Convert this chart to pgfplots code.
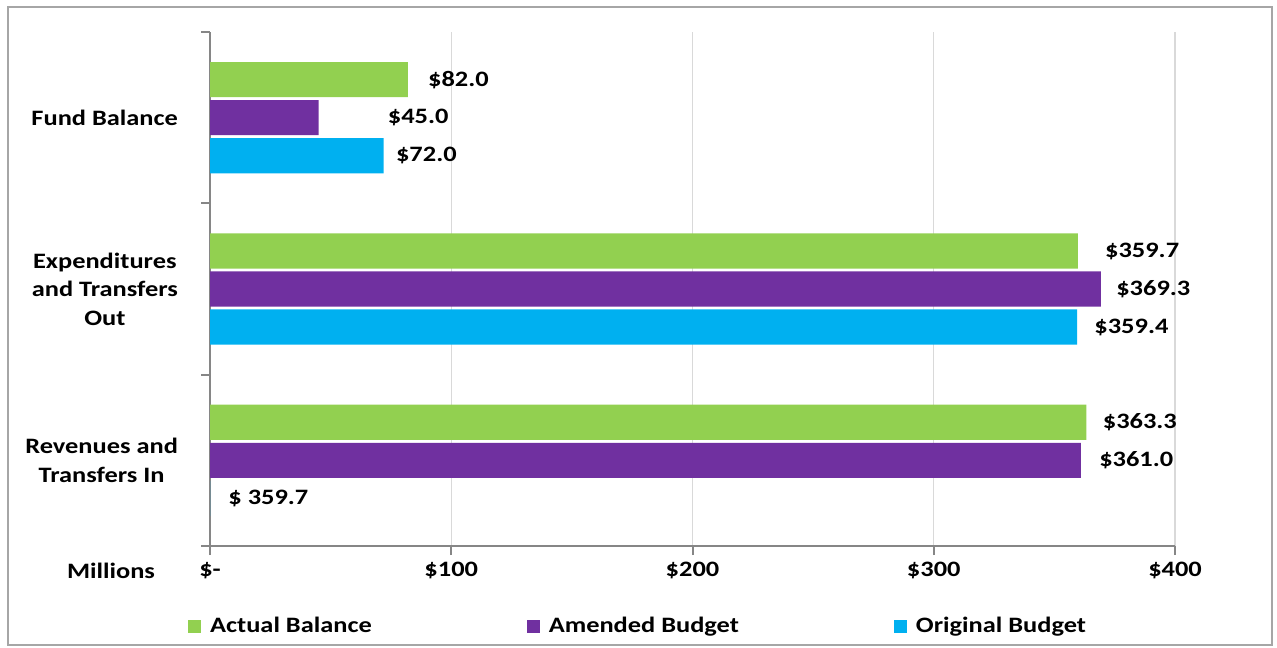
\documentclass[border=0pt]{standalone}
\usepackage{pgfplots}
\pgfplotsset{compat=1.18}
\usepackage{pgfplotstable}
\usepackage{fontspec}
\setmainfont{Carlito}[FakeStretch=1.2]

\definecolor{cgreen}{HTML}{92D050}
\definecolor{cpurple}{HTML}{7030A0}
\definecolor{cblue}{HTML}{00B0F0}
\definecolor{caxis}{HTML}{868686}
\definecolor{cgrid}{HTML}{D9D9D9}
\definecolor{cframe}{HTML}{A6A6A6}

% y: 0 = Revenues, 1 = Expenditures, 2 = Fund Balance; off = gap to label (pt)
\pgfplotstableread{
y x lab off
0 363.3 {\$363.3} 8
1 359.7 {\$359.7} 13.5
2 82.0 {\$82.0} 10
}\actual
\pgfplotstableread{
y x lab off
0 361.0 {\$361.0} 9
1 369.3 {\$369.3} 7.5
2 45.0 {\$45.0} 34.5
}\amended
\pgfplotstableread{
y x lab off
0 0 {\$ 359.7} 9
1 359.4 {\$359.4} 8.5
2 72.0 {\$72.0} 6
}\original

\begin{document}
\begin{tikzpicture}[font=\bfseries\fontsize{11}{14.25}\selectfont]
\begin{axis}[
  at={(105pt,50.5pt)}, anchor=south west,
  scale only axis, width=482.5pt, height=257pt,
  xbar, bar width=0.205,
  xmin=0, xmax=400, ymin=-0.5, ymax=2.5,
  axis x line*=bottom, axis y line*=left,
  axis line style={caxis, line width=1pt},
  tick align=outside, major tick length=4.5pt,
  tick style={caxis, line width=1pt},
  xtick={0,100,200,300,400},
  xticklabels={\$-,\$100,\$200,\$300,\$400},
  xmajorgrids, major grid style={cgrid, line width=0.6pt},
  ytick={-0.5,0.5,1.5,2.5},
  y tick label as interval,
  yticklabels={{Revenues and\\Transfers In},{Expenditures\\and Transfers\\Out},{Fund Balance}},
  yticklabel style={align=center, xshift=-8pt},
  /pgf/number format/assume math mode=true,
  point meta=explicit symbolic,
  visualization depends on={\thisrow{off} \as \xoff},
  nodes near coords,
  every node near coord/.append style={anchor=west, inner sep=0pt, xshift=\xoff pt, text=black},
  legend style={at={(0.4446,0)}, anchor=center, yshift=-40pt, draw=none, fill=none,
    legend columns=-1,
    /tikz/every odd column/.append style={column sep=2.5pt},
    /tikz/every even column/.append style={column sep=75.5pt}},
  legend image code/.code={\fill[#1] (0pt,-3.25pt) rectangle (6.5pt,3.25pt);},
]
\addplot[fill=cgreen, draw=none, bar shift=0.222] table[x=x, y=y, meta=lab] {\actual};
\addplot[fill=cpurple, draw=none, bar shift=0] table[x=x, y=y, meta=lab] {\amended};
\addplot[fill=cblue, draw=none, bar shift=-0.222] table[x=x, y=y, meta=lab] {\original};
\legend{Actual Balance, Amended Budget, Original Budget}
\end{axis}
\node at (55.5pt,38pt) {Millions};
\draw[cframe, line width=1pt] (4pt,1pt) rectangle (636pt,320pt);
\pgfresetboundingbox
\useasboundingbox (0,0) rectangle (638.5pt,323.5pt);
\end{tikzpicture}
\end{document}
